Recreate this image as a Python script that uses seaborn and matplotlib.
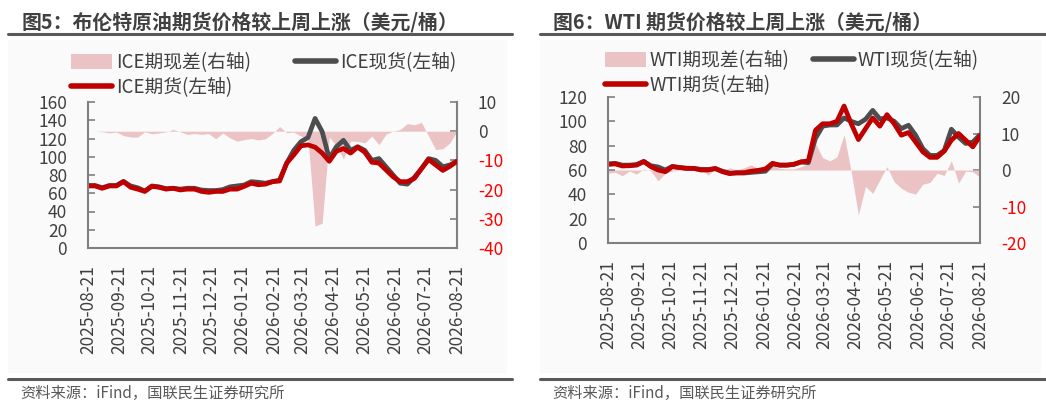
import pandas as pd
import numpy as np
import matplotlib
matplotlib.use('Agg')
import matplotlib.pyplot as plt
import matplotlib.dates as mdates
from matplotlib.patches import Patch, Rectangle
from matplotlib.lines import Line2D
import seaborn as sns

sns.set_theme(style='white')
plt.rcParams['font.family'] = ['Noto Sans CJK SC', 'DejaVu Sans']
plt.rcParams['axes.unicode_minus'] = False

# weekly observations from 2025-08-21 to 2026-08-21
dates = pd.date_range('2025-08-21', '2026-08-21', periods=53)
month_ticks = [pd.Timestamp('2025-08-21') + pd.DateOffset(months=i) for i in range(13)]

ice_fut = [68, 68, 65.4, 68, 68, 72.7, 66.6, 64.5, 62, 67.5, 66.6, 64.5, 65.4, 63.6, 64.5, 64.5,
           62, 61, 62, 62, 64.5, 64.5, 67.5, 71, 69.3, 70, 72.7, 73.4, 93, 102, 112, 113,
           110.5, 104, 95, 106, 109, 104, 110.5, 105, 94, 93, 85.5, 78, 72.7, 72.7, 76.3, 87,
           97, 91, 85, 89.5, 95]
ice_spot = [68.5, 68.5, 66, 68.5, 68.5, 73, 68, 66, 62.5, 68, 67, 65, 65.5, 64.5, 65.5, 65.5,
            63.5, 63, 63, 64, 67, 68, 69, 72.7, 72, 71, 72.7, 74.5, 93, 107, 116.5, 121,
            142, 127.5, 98, 111, 118, 107, 111, 107, 96, 98, 89, 80, 71, 70, 77.5, 87,
            98, 96, 89, 91, 95]
ice_basis = [0, 0, -0.2, -0.6, -0.3, -1.5, -2, -2, -0.2, -0.9, -0.6, -0.2, 0.6, -0.2, -1.1, -0.8,
             -1.1, -0.8, -2.6, -0.6, -2.3, -3.4, -2.9, -2.5, -3, -2.6, -0.8, 1.6, -0.5, -0.3, -1.7, -2.4,
             -32.5, -31.5, -2, -5, -9.5, -3.4, -3.5, -4, -1.7, -4.6, -1, 0, 0.6, 2.6, 2.2, 3,
             -1.7, -6.3, -6, -4, 0]

wti_fut = [64.6, 65, 63.3, 63.5, 64, 67, 62.7, 60, 58.6, 62.7, 62, 61.3, 61.3, 60, 60, 61.3,
           58.6, 57, 57.8, 57.8, 59, 59.7, 60.8, 65.5, 64, 64, 64.6, 66.8, 67.4, 92.7, 98, 98,
           100, 112.6, 98, 85, 94, 102.8, 96, 105.5, 98, 88.6, 90.8, 83, 75, 70.4, 70.4, 75.5,
           84.5, 90, 84.5, 79, 88]
wti_spot = [65, 65.5, 64, 64, 64.5, 67, 63.5, 62.5, 60, 63, 62, 61.5, 61.3, 60.5, 60.5, 61,
            59, 57.5, 57.5, 57.5, 58, 58.5, 59, 65, 64, 64, 64.8, 66.5, 66, 86, 96, 97,
            97, 102.8, 100, 98, 101.7, 109, 102, 102.8, 100, 94, 96.8, 88.6, 77.7, 72, 72, 76,
            93.5, 87, 81.8, 83, 89]
wti_basis = [-0.9, -0.6, -1.6, -0.3, -1.1, 0.3, -0.3, -3, -0.9, -0.3, -0.1, 0.3, 0, 0.3, -1.4, 0.3,
             -0.1, 0.6, 0, 0.6, 1.4, 0.5, 1.2, 1.4, 0.4, 0.3, 0.3, 0.9, 1.8, 7.3, 3.4, 2.5,
             3.6, 9.7, -0.5, -12.3, -4.5, -6.4, -2.7, 0.9, -3.2, -5, -6.1, -6.6, -3.9, -3.4, -0.9, -1.5,
             2.5, -3.6, -0.3, -0.5, -2]

panels = [
    dict(title='图5：布伦特原油期货价格较上周上涨（美元/桶）', name='ICE',
         fut=ice_fut, spot=ice_spot, basis=ice_basis,
         lticks=list(range(0, 161, 20)), rticks=list(range(-40, 11, 10)),
         box=(88, 102, 457, 248), tx=22, x0=8, x1=512, leg1=(71, 52), leg2=(295, 52)),
    dict(title='图6：WTI 期货价格较上周上涨（美元/桶）', name='WTI',
         fut=wti_fut, spot=wti_spot, basis=wti_basis,
         lticks=list(range(0, 121, 20)), rticks=list(range(-20, 21, 10)),
         box=(608, 97, 980, 243), tx=553, x0=540, x1=1046, leg1=(605, 50), leg2=(813, 50)),
]

W, H = 1046, 405
fig = plt.figure(figsize=(W / 100, H / 100), dpi=100)
fig.patch.set_facecolor('white')

grey = '#808080'
txt = '#404040'
red_line = '#C00000'
spot_col = '#4D4D4F'
area_col = '#EBC3C4'

for p in panels:
    fig.patches.append(Rectangle((p['x0'] / W, 1 - 372 / H), (p['x1'] - p['x0'] - 6) / W, (372 - 40) / H,
                                 transform=fig.transFigure, color='#FAFAFA', zorder=-5))
    fig.text(p['tx'] / W, 1 - 22 / H, p['title'], fontsize=14.3, fontweight='bold',
             color=txt, va='center', ha='left')
    fig.add_artist(Line2D([p['x0'] / W, p['x1'] / W], [1 - 34 / H] * 2, color='#595959', lw=2.2))
    fig.add_artist(Line2D([p['x0'] / W, p['x1'] / W], [1 - 379 / H] * 2, color='#595959', lw=2.2))
    fig.text((p['x0'] + 12) / W, 1 - 393 / H, '资料来源：iFind，国联民生证券研究所', fontsize=11,
             color='#595959', va='center', ha='left')

    l, t, r, b = p['box']
    ax = fig.add_axes([l / W, 1 - b / H, (r - l) / W, (b - t) / H])
    ax.set_facecolor('none')
    ax2 = ax.twinx()
    ax.set_zorder(2)
    ax2.set_zorder(1)

    df = pd.DataFrame({'date': dates, 'fut': p['fut'], 'spot': p['spot'], 'basis': p['basis']})
    ax2.fill_between(df['date'], 0, df['basis'], color=area_col, lw=0)
    sns.lineplot(data=df, x='date', y='spot', ax=ax, color=spot_col, lw=3.4)
    sns.lineplot(data=df, x='date', y='fut', ax=ax, color=red_line, lw=3.4)

    ax.set_ylim(p['lticks'][0], p['lticks'][-1])
    ax.set_yticks(p['lticks'])
    ax2.set_ylim(p['rticks'][0], p['rticks'][-1])
    ax2.set_yticks(p['rticks'])
    ax.set_xlim(month_ticks[0], month_ticks[-1])
    ax.set_xticks(month_ticks)
    ax.xaxis.set_major_formatter(mdates.DateFormatter('%Y-%m-%d'))
    ax.set_xlabel('')
    ax.set_ylabel('')
    ax2.set_ylabel('')

    for a in (ax, ax2):
        for s in a.spines.values():
            s.set_color(grey)
            s.set_linewidth(1.5)
        a.spines['top'].set_visible(False)
    ax.spines['right'].set_visible(False)
    ax2.spines['left'].set_visible(False)
    ax2.spines['bottom'].set_visible(False)

    ax.tick_params(axis='y', direction='in', length=5, width=1.2, color=grey,
                   labelsize=12.5, labelcolor=txt, pad=15)
    ax.tick_params(axis='x', direction='out', length=6, width=1.2, color=grey,
                   labelsize=12.5, labelcolor=txt, rotation=90, pad=6)
    ax2.tick_params(axis='y', direction='in', length=5, width=1.2, color=grey,
                    labelsize=12.5, pad=15)
    for v, lab in zip(p['rticks'], ax2.get_yticklabels()):
        lab.set_color('#FF0000' if v < 0 else txt)

    leg_kw = dict(loc='upper left', frameon=False, fontsize=13.5, labelcolor=txt, handlelength=2.2,
                  handleheight=0.9, handletextpad=0.2, labelspacing=0.2, borderpad=0, borderaxespad=0)
    fig.legend([Patch(facecolor=area_col, edgecolor='none'), Line2D([], [], color=red_line, lw=4)],
               [p['name'] + '期现差(右轴)', p['name'] + '期货(左轴)'],
               bbox_to_anchor=(p['leg1'][0] / W, 1 - p['leg1'][1] / H), **leg_kw)
    fig.legend([Line2D([], [], color=spot_col, lw=4)], [p['name'] + '现货(左轴)'],
               bbox_to_anchor=(p['leg2'][0] / W, 1 - p['leg2'][1] / H), **leg_kw)

fig.savefig('out.png', dpi=100, facecolor='white')
